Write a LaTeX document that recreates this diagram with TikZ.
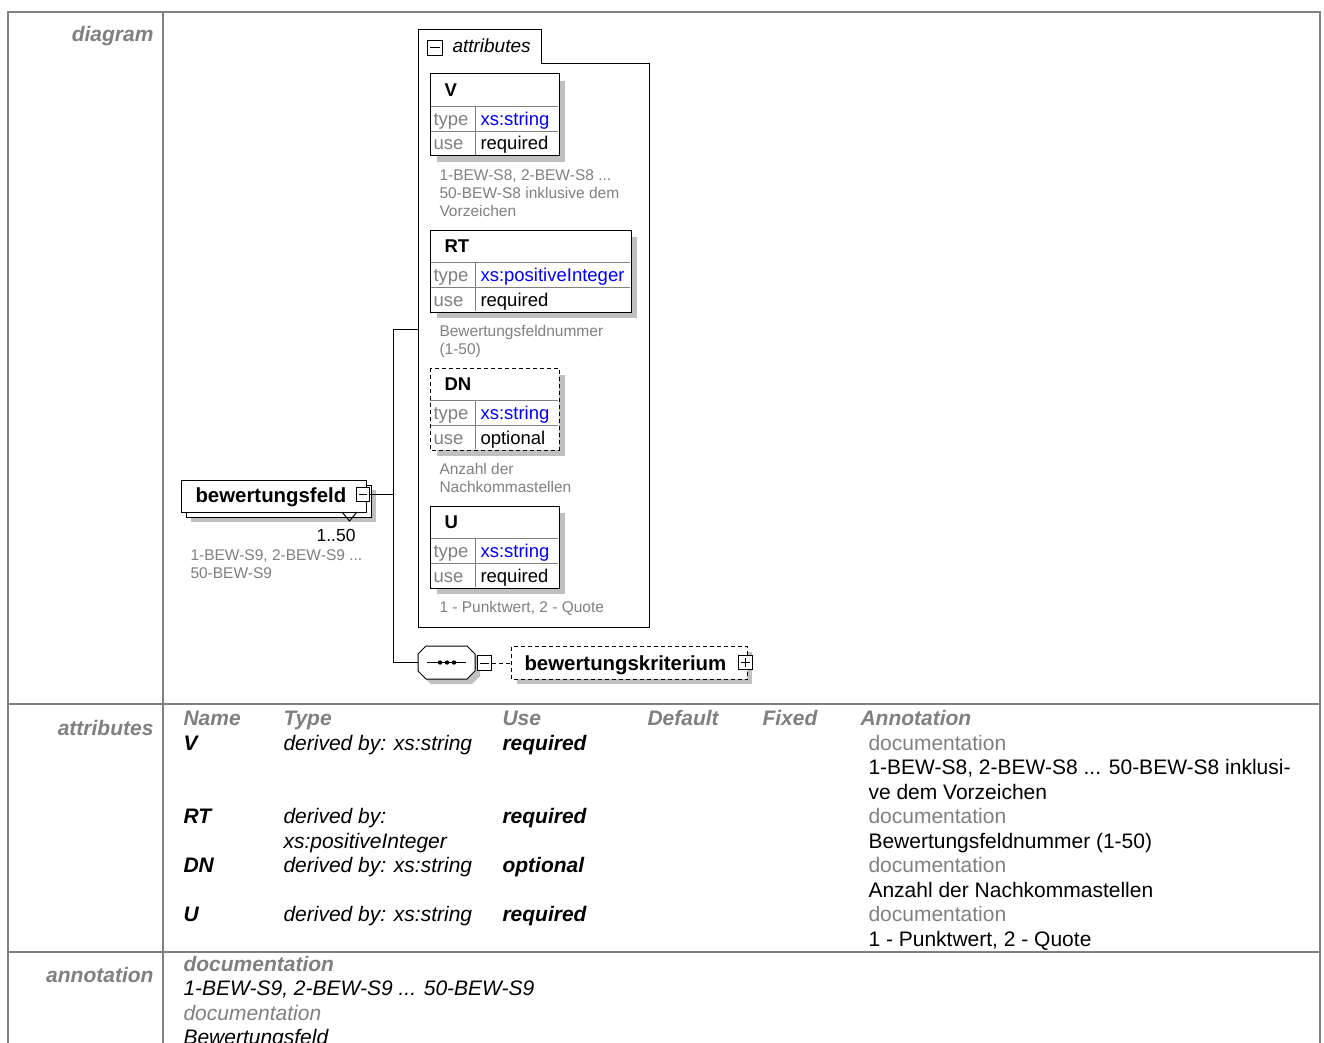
\documentclass[tikz,border=0pt]{standalone}
\usepackage{fontspec}
\setmainfont{Liberation Sans}
\usetikzlibrary{calc}
\definecolor{gr}{HTML}{808080}
\definecolor{shd}{HTML}{C0C0C0}
\definecolor{xsblue}{HTML}{0000FF}
\newcommand\mybig{\fontsize{21}{24.5}\selectfont}
\newcommand\mybx{\fontsize{18.5}{22}\selectfont}
\newcommand\mydesc{\fontsize{15.5}{18}\selectfont}
\newcommand\myel{\fontsize{20.4}{24}\selectfont}
\newcommand\mytab{\fontsize{19}{22}\selectfont}
\tikzset{
  txt/.style={inner sep=0pt, anchor=base west},
  txte/.style={inner sep=0pt, anchor=base east},
  frame/.style={draw=gr, line width=2pt},
  lbl/.style={txte, font=\mybig\bfseries\itshape, text=gr},
  hdr/.style={txt, font=\mybig\bfseries\itshape, text=gr},
  nm/.style={txt, font=\mybig\bfseries\itshape},
  ty/.style={txt, font=\mybig\itshape},
  doclbl/.style={txt, font=\mybig, text=gr},
  doctxt/.style={txt, font=\mybig},
  desc/.style={txt, font=\mydesc, text=gr},
  mydash/.style={dash pattern=on 4pt off 3pt},
  icon/.style={draw, fill=white, inner sep=0pt},
}
\newcommand\attrbox[8][]{%
  \fill[shd] (#3+7,#4+7) rectangle (#3+#5+7,#4+88);
  \node[fill=white,minimum width=#5,minimum height=81,inner sep=0pt,anchor=north west] (#2) at (#3,#4) {};
  \draw[gr] (#3,#4+32.5) -- (#3+#5,#4+32.5) (#3,#4+57.5) -- (#3+#5,#4+57.5) (#3+45,#4+32.5) -- (#3+45,#4+81);
  \draw[#1] (#2.north west) rectangle (#2.south east);
  \node[txt,font=\mybx\bfseries] (#2-t) at (#3+14,#4+22.5) {#6};
  \node[txt,font=\mybx,text=gr] (#2-tl) at (#3+3,#4+51.5) {type};
  \node[txt,font=\mybx,text=xsblue] (#2-tv) at (#3+50,#4+51.5) {#7};
  \node[txt,font=\mybx,text=gr] (#2-ul) at (#3+3,#4+76) {use};
  \node[txt,font=\mybx] (#2-uv) at (#3+50,#4+76) {#8};
}
\begin{document}
\begin{tikzpicture}[x=1pt,y=-1pt,line width=1pt]
\useasboundingbox (0,0) rectangle (1324,1043);
\clip (0,0) rectangle (1324,1043);
\fill[white] (0,0) rectangle (1324,1043);
% frame
\draw[frame] (8,1060) |- (1320,12) -- (1320,1060);
\draw[frame] (8,704) -- (1320,704);
\draw[frame] (8,952) -- (1320,952);
\draw[frame] (163,12) -- (163,1060);
% row labels
\node[lbl] (ldiag) at (154,42) {diagram};
\node[lbl] (lattr) at (154,735) {attributes};
\node[lbl] (lann) at (154,982) {annotation};

% ---------------- diagram ----------------
% attribute group
\node[minimum width=231,minimum height=597,inner sep=0pt,anchor=north west] (grp) at (418,30) {};
\draw (418,30) -- (541,30) -- (541,64) -- (649,64) -- (649,627) -- (418,627) -- cycle;
\node[icon,minimum width=15,minimum height=15,anchor=north west] (grpicon) at (427,40) {};
\draw ($(grpicon.west)+(3,0)$) -- ($(grpicon.east)+(-3,0)$);
\node[txt,font=\mytab\itshape] (grplbl) at (452,52.5) {attributes};

\attrbox{V}{430}{74}{128}{V}{xs:string}{required}
\node[desc] (Vd1) at (439,180.5) {1-BEW-S8, 2-BEW-S8 ...};
\node[desc] (Vd2) at (439,198.5) {50-BEW-S8 inklusive dem};
\node[desc] (Vd3) at (439,216.5) {Vorzeichen};

\attrbox{RT}{430}{230}{200}{RT}{xs:positiveInteger}{required}
\node[desc] (RTd1) at (439,336.5) {Bewertungsfeldnummer};
\node[desc] (RTd2) at (439,354.5) {(1-50)};

\attrbox[mydash]{DN}{430}{368}{128}{DN}{xs:string}{optional}
\node[desc] (DNd1) at (439,474.5) {Anzahl der};
\node[desc] (DNd2) at (439,492.5) {Nachkommastellen};

\attrbox{U}{430}{506}{128}{U}{xs:string}{required}
\node[desc] (Ud1) at (439,612.5) {1 - Punktwert, 2 - Quote};

% bewertungsfeld element
\fill[shd] (191,490) rectangle (376,522);
\node[draw,fill=white,minimum width=185,minimum height=32,inner sep=0pt,anchor=north west] (bfback) at (186,485) {};
\node[draw,fill=white,minimum width=185,minimum height=32,inner sep=0pt,anchor=north west] (bf) at (181,480) {};
\node[txt,font=\myel\bfseries] (bft) at (195,502) {bewertungsfeld};
\draw (342,512) -- (349.5,521) -- (357,512);
\node[icon,minimum width=13,minimum height=14] (bfminus) at (363,494) {};
\draw ($(bfminus.west)+(3,0)$) -- ($(bfminus.east)+(-3,0)$);
\node[txte,font=\fontsize{17.5}{20}\selectfont] (bfocc) at (356,541) {1..50};
\node[desc] (bfd1) at (190,560.5) {1-BEW-S9, 2-BEW-S9 ...};
\node[desc] (bfd2) at (190,578.5) {50-BEW-S9};

% sequence
\node[minimum width=57,minimum height=33,inner sep=0pt] (seq) at (446.5,662.5) {};
\fill[shd] (431,651) -- (472,651) -- (480,659) -- (480,676) -- (472,684) -- (431,684) -- (423,676) -- (423,659) -- cycle;
\draw[fill=white] (426,646) -- (467,646) -- (475,654) -- (475,671) -- (467,679) -- (426,679) -- (418,671) -- (418,654) -- cycle;
\draw (427,662.5) -- (466,662.5);
\fill (440,662.5) circle (2.2) (447,662.5) circle (2.2) (454,662.5) circle (2.2);
\node[icon,minimum width=14,minimum height=15,anchor=west] (seqminus) at (477,663) {};
\draw ($(seqminus.west)+(3,0)$) -- ($(seqminus.east)+(-3,0)$);

% bewertungskriterium
\fill[shd] (517,652) rectangle (752,684);
\node[fill=white,minimum width=235,minimum height=32,inner sep=0pt,anchor=north west] (bk) at (511.5,646.5) {};
\draw[mydash] (bk.north west) rectangle (bk.south east);
\node[txt,font=\myel\bfseries] (bkt) at (524,670) {bewertungskriterium};
\node[icon,minimum size=14] (bkplus) at (745,662.5) {};
\draw ($(bkplus.west)+(3,0)$) -- ($(bkplus.east)+(-3,0)$) ($(bkplus.north)+(0,3)$) -- ($(bkplus.south)+(0,-3)$);

% connectors
\coordinate (bus) at (393,494);
\draw (bfminus.east) -- (bus);
\draw (bus) |- (grp.west);
\draw (bus) |- (seq.west);
\draw[mydash] (seqminus.east) -- (bk.west);

% ---------------- attributes table ----------------
\node[hdr] (hName) at (183,725) {Name};
\node[hdr] (hType) at (283,725) {Type};
\node[hdr] (hUse) at (502,725) {Use};
\node[hdr] (hDef) at (647,725) {Default};
\node[hdr] (hFix) at (762,725) {Fixed};
\node[hdr] (hAnn) at (860,725) {Annotation};

\node[nm] (rV) at (183,750) {V};
\node[ty] (rVt) at (283,750) {derived by: xs:string};
\node[nm] (rVu) at (502,750) {required};
\node[doclbl] (rVd) at (868,750) {documentation};
\node[doctxt] (rVa1) at (868,774.5) {1-BEW-S8, 2-BEW-S8 ... 50-BEW-S8 inklusi-};
\node[doctxt] (rVa2) at (868,799) {ve dem Vorzeichen};

\node[nm] (rRT) at (183,823.5) {RT};
\node[ty] (rRTt1) at (283,823.5) {derived by:};
\node[ty] (rRTt2) at (283,848) {xs:positiveInteger};
\node[nm] (rRTu) at (502,823.5) {required};
\node[doclbl] (rRTd) at (868,823.5) {documentation};
\node[doctxt] (rRTa) at (868,848) {Bewertungsfeldnummer (1-50)};

\node[nm] (rDN) at (183,872.5) {DN};
\node[ty] (rDNt) at (283,872.5) {derived by: xs:string};
\node[nm] (rDNu) at (502,872.5) {optional};
\node[doclbl] (rDNd) at (868,872.5) {documentation};
\node[doctxt] (rDNa) at (868,897) {Anzahl der Nachkommastellen};

\node[nm] (rU) at (183,921.5) {U};
\node[ty] (rUt) at (283,921.5) {derived by: xs:string};
\node[nm] (rUu) at (502,921.5) {required};
\node[doclbl] (rUd) at (868,921.5) {documentation};
\node[doctxt] (rUa) at (868,946) {1 - Punktwert, 2 - Quote};

% ---------------- annotation ----------------
\node[hdr] (an1) at (183,971) {documentation};
\node[ty] (an2) at (183,995.5) {1-BEW-S9, 2-BEW-S9 ... 50-BEW-S9};
\node[txt,font=\mybig\itshape,text=gr] (an3) at (183,1020) {documentation};
\node[ty] (an4) at (183,1044.5) {Bewertungsfeld};
\end{tikzpicture}
\end{document}
